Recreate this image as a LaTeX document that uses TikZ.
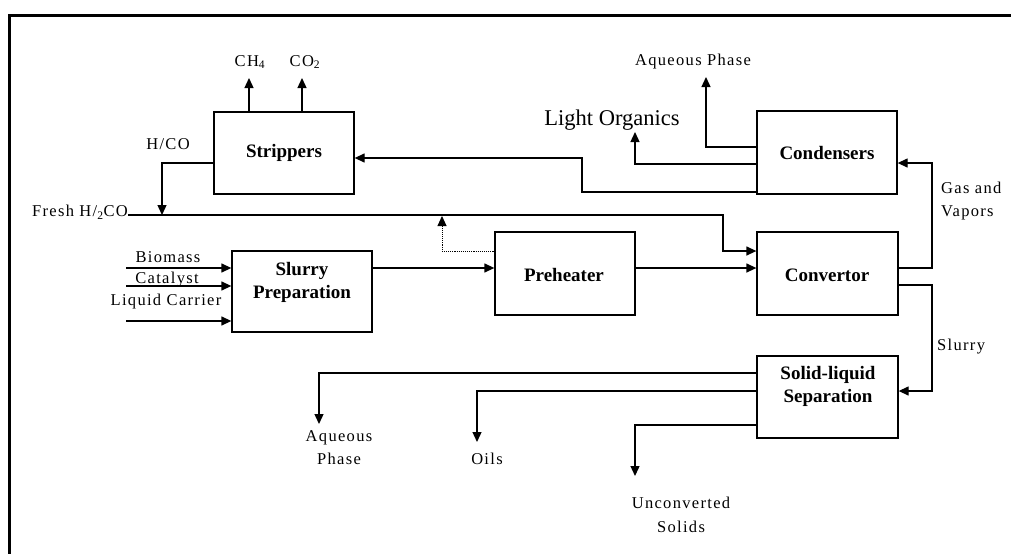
\documentclass[tikz,border=0pt]{standalone}
\usepackage{fontspec}
\setmainfont{Liberation Serif}
\usetikzlibrary{arrows.meta}
\tikzset{
  box/.style={draw, line width=1.3pt, inner sep=0pt, align=center},
  boxtxt/.style={font=\bfseries\fontsize{19}{23}\selectfont, align=center, inner sep=0pt},
  lbl/.style={font=\fontsize{16.5}{23}\selectfont\addfontfeature{LetterSpace=8}, align=center, inner sep=0pt},
  arr/.style={-{Triangle[length=10pt,width=9pt]}, line width=1.3pt}
}
\begin{document}
\begin{tikzpicture}[x=1pt,y=-1pt]
\useasboundingbox (0,0) rectangle (1011,554);
% frame
\draw[line width=3pt] (1011,15.5) -- (9.5,15.5) -- (9.5,554);
% boxes
\node[box, minimum width=140pt, minimum height=82pt] (strip) at (284,153) {};
\node[boxtxt] (striptxt) at (strip.center) {Strippers};
\node[box, minimum width=140pt, minimum height=83pt] (cond) at (827,152.5) {};
\node[boxtxt] (condtxt) at (cond.center) {Condensers};
\node[box, minimum width=141pt, minimum height=83pt] (conv) at (827.5,273.5) {};
\node[boxtxt] (convtxt) at (827,275) {Convertor};
\node[box, minimum width=140pt, minimum height=83pt] (pre) at (565,273.5) {};
\node[boxtxt] (pretxt) at (564,275) {Preheater};
\node[box, minimum width=140pt, minimum height=81pt] (slurry) at (302,291.5) {};
\node[boxtxt] (slurrytxt) at (302,282) {Slurry\\Preparation};
\node[box, minimum width=141pt, minimum height=82pt] (sep) at (827.5,397) {};
\node[boxtxt] (septxt) at (828,386) {Solid-liquid\\Separation};
% labels
\node[lbl] (ch4) at (250,62) {CH\textsubscript{4}};
\node[lbl] (co2) at (305,62) {CO\textsubscript{2}};
\node[lbl] (hco) at (168,144) {H/CO};
\node[lbl, anchor=east] (fresh) at (128,212) {Fresh H/\textsubscript{2}CO};
\node[lbl] (aqtop) at (693,62) {Aqueous Phase};
\node[font=\fontsize{22.5}{26}\selectfont, inner sep=0pt] (light) at (612,120) {Light Organics};
\node[lbl, anchor=west, align=left] (gas) at (941,201) {Gas and\\Vapors};
\node[lbl] (bio) at (168,257) {Biomass};
\node[lbl] (cat) at (167,280) {Catalyst};
\node[lbl] (liq) at (166,302) {Liquid Carrier};
\node[lbl, anchor=west] (slur) at (937,347) {Slurry};
\node[lbl] (aqbot) at (339,448) {Aqueous\\Phase};
\node[lbl] (oils) at (487,459) {Oils};
\node[lbl, font=\fontsize{16.5}{24}\selectfont\addfontfeature{LetterSpace=8}] (unc) at (681,515) {Unconverted\\Solids};
% free ends
\coordinate (ch4e) at (249,78);
\coordinate (co2e) at (302,78);
\coordinate (hcoe) at (162,215);
\coordinate (aqte) at (706,77);
\coordinate (lighte) at (635,132);
\coordinate (dote) at (442,216);
\coordinate (in1) at (126,268);
\coordinate (in2) at (126,286);
\coordinate (in3) at (126,321);
\coordinate (aqbe) at (319,424);
\coordinate (oilse) at (477,442);
\coordinate (unce) at (635,476);
% connectors
\draw[arr] (strip.north -| ch4e) -- (ch4e);
\draw[arr] (strip.north -| co2e) -- (co2e);
\draw[arr] (strip.west |- 0,163) -| (hcoe);
\draw[arr] (fresh.east |- 0,215) -- (723,215) |- (conv.west |- 0,251);
\draw[arr, line width=0.9pt, densely dotted] (pre.west |- 0,251) -| (dote);
\draw[arr] (slurry.east |- 0,268) -- (pre.west |- 0,268);
\draw[arr] (pre.east |- 0,268) -- (conv.west |- 0,268);
\draw[arr] (in1) -- (slurry.west |- in1);
\draw[arr] (in2) -- (slurry.west |- in2);
\draw[arr] (in3) -- (slurry.west |- in3);
\draw[arr] (conv.east |- 0,268) -- (932,268) |- (cond.east |- 0,163);
\draw[arr] (cond.west |- 0,192) -- (582,192) -- (582,158) -- (strip.east |- 0,158);
\draw[arr] (cond.west |- 0,147) -| (aqte);
\draw[arr] (cond.west |- 0,164) -| (lighte);
\draw[arr] (conv.east |- 0,285) -- (932,285) |- (sep.east |- 0,391);
\draw[arr] (sep.west |- 0,373) -| (aqbe);
\draw[arr] (sep.west |- 0,391) -| (oilse);
\draw[arr] (sep.west |- 0,425) -| (unce);
\end{tikzpicture}
\end{document}
